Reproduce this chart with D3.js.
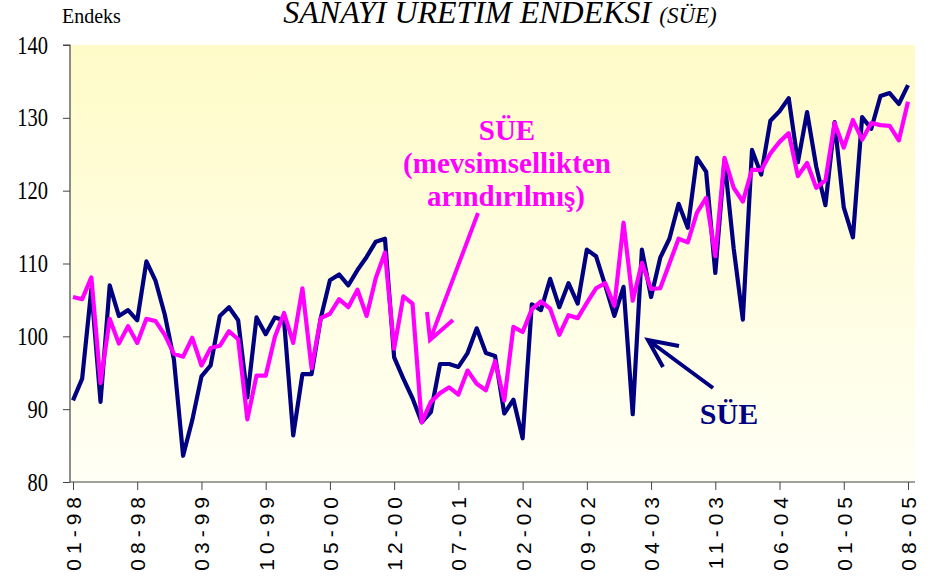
<!DOCTYPE html>
<html>
<head>
<meta charset="utf-8">
<script src="https://cdn.jsdelivr.net/npm/d3@7"></script>
<style>
  html, body { margin: 0; padding: 0; background: #ffffff; }
  svg { display: block; }
</style>
</head>
<body>
<svg id="chart" width="934" height="580"></svg>
<script>
// ---- Data (monthly, 01-98 .. 08-05) ----
const tickLabels = ["01-98","08-98","03-99","10-99","05-00","12-00","07-01","02-02","09-02","04-03","11-03","06-04","01-05","08-05"];
const tickStep = 7;
const sue = [
  91.2, 94.2, 106.5, 91.0, 107.0, 102.8, 103.6, 102.2, 110.3, 107.6, 103.0, 96.8,
  83.6, 88.5, 94.5, 96.0, 102.8, 104.0, 102.2, 91.6, 102.6, 100.3, 102.6, 102.2,
  86.4, 94.8, 94.8, 102.5, 107.7, 108.5, 107.0, 109.1, 110.9, 113.0, 113.4, 97.1,
  94.2, 91.5, 88.2, 89.6, 96.2, 96.2, 95.8, 97.7, 101.1, 97.7, 97.3, 89.4,
  91.3, 86.0, 104.4, 103.6, 107.9, 104.0, 107.3, 104.5, 111.9, 111.0, 107.0, 102.8,
  106.8, 89.3, 111.9, 105.4, 110.8, 113.4, 118.2, 114.9, 124.5, 122.6, 108.7, 124.2,
  112.1, 102.3, 125.6, 122.2, 129.6, 130.9, 132.7, 123.9, 130.8, 123.3, 118.0, 129.4,
  117.7, 113.6, 130.1, 128.5, 133.0, 133.4, 131.9, 134.5
];
const sueSA = [
  105.4, 105.1, 108.1, 93.6, 102.4, 99.0, 101.4, 99.1, 102.4, 102.1, 100.2, 97.6,
  97.2, 99.8, 96.0, 98.4, 98.7, 100.7, 99.6, 88.6, 94.6, 94.6, 99.9, 103.2,
  99.1, 106.6, 95.6, 102.5, 103.1, 105.1, 104.0, 106.4, 102.8, 108.0, 111.5, 98.3,
  105.5, 104.5, 88.2, 91.0, 92.2, 93.0, 92.0, 95.3, 93.5, 92.6, 96.6, 91.2,
  101.3, 100.6, 103.7, 104.8, 103.8, 100.2, 102.9, 102.5, 104.6, 106.6, 107.3, 104.2,
  115.6, 104.9, 110.1, 106.5, 106.6, 110.0, 113.4, 112.9, 117.0, 119.0, 111.0, 124.5,
  120.4, 118.5, 122.9, 122.8, 125.1, 126.7, 127.9, 122.0, 123.8, 120.4, 121.4, 129.3,
  125.9, 129.7, 127.0, 129.3, 129.0, 128.9, 126.9, 132.2
];
const yTicks = [80, 90, 100, 110, 120, 130, 140];

const SERIF = '"Liberation Serif", "Times New Roman", "DejaVu Serif", serif';
const SANS = '"Liberation Sans", Arial, "DejaVu Sans", sans-serif';

// ---- Layout ----
const svg = d3.select("#chart");
const plot = { left: 70, right: 915, top: 45, bottom: 482 };
const n = sue.length;
const x = d3.scaleLinear().domain([0, n - 1]).range([73, 908]);
const y = d3.scaleLinear().domain([80, 140]).range([plot.bottom, plot.top]);

// background gradient
const defs = svg.append("defs");
const grad = defs.append("linearGradient").attr("id", "bg").attr("x1", 0).attr("y1", 0).attr("x2", 0).attr("y2", 1);
grad.append("stop").attr("offset", "0%").attr("stop-color", "#fffbc8");
grad.append("stop").attr("offset", "100%").attr("stop-color", "#fffff5");

svg.append("rect")
  .attr("x", plot.left).attr("y", plot.top)
  .attr("width", plot.right - plot.left).attr("height", plot.bottom - plot.top)
  .attr("fill", "url(#bg)");

// axes
const yAxis = d3.axisLeft(y).tickValues(yTicks).tickSize(7).tickPadding(6).tickFormat(d3.format("d"));
const yG = svg.append("g").attr("transform", `translate(${plot.left},0)`).call(yAxis);
yG.select(".domain").attr("stroke", "#444").attr("stroke-width", 1.2).attr("d", `M-7,${plot.top}H0V${plot.bottom}`);
yG.selectAll(".tick line").attr("stroke", "#444");
yG.selectAll(".tick text")
  .style("font-family", SERIF)
  .style("font-size", "25px").attr("fill", "#000")
  .attr("x", 0)
  .attr("transform", "translate(-22,0) scale(0.82,1)");

const tickIdx = tickLabels.map((_, i) => i * tickStep);
const xAxis = d3.axisBottom(x).tickValues(tickIdx).tickSize(8).tickFormat((d, i) => tickLabels[i]);
const xG = svg.append("g").attr("transform", `translate(0,${plot.bottom})`).call(xAxis);
xG.select(".domain").attr("stroke", "#444").attr("stroke-width", 1.2).attr("d", `M${plot.left},0H${plot.right}`);
xG.selectAll(".tick line").attr("stroke", "#444");
xG.selectAll(".tick text")
  .style("font-family", SANS)
  .style("font-size", "21px").attr("fill", "#000")
  .attr("letter-spacing", "5px")
  .attr("text-anchor", "end")
  .attr("dominant-baseline", "central")
  .attr("transform", "translate(0,10) rotate(-90)")
  .attr("x", 0).attr("y", 0).attr("dy", null);

// lines
const line = d3.line().x((d, i) => x(i)).y(d => y(d)).curve(d3.curveLinear);
svg.append("path").datum(sue).attr("d", line)
  .attr("fill", "none").attr("stroke", "#000080").attr("stroke-width", 4.2).attr("stroke-linejoin", "round");
svg.append("path").datum(sueSA).attr("d", line)
  .attr("fill", "none").attr("stroke", "#ff00ff").attr("stroke-width", 4.2).attr("stroke-linejoin", "round");

// title
const title = svg.append("text").attr("x", 500).attr("y", 23).attr("text-anchor", "middle")
  .style("font-family", SERIF).style("font-style", "italic");
title.append("tspan").style("font-size", "32px").text("SANAYİ ÜRETİM ENDEKSİ ");
title.append("tspan").style("font-size", "23px").text("(SÜE)");

svg.append("text").attr("x", 62).attr("y", 23)
  .style("font-family", SERIF).style("font-size", "20px")
  .text("Endeks");

// annotations
const magText = svg.append("text").attr("text-anchor", "middle")
  .style("font-family", SERIF).style("font-weight", "bold").style("font-size", "29px").attr("fill", "#ff00ff");
magText.append("tspan").attr("x", 507).attr("y", 140).text("SÜE");
magText.append("tspan").attr("x", 507).attr("y", 173).text("(mevsimsellikten");
magText.append("tspan").attr("x", 506).attr("y", 206).text("arındırılmış)");

svg.append("path")
  .attr("d", "M478,213L430,340M427,312L430,340L453,320")
  .attr("fill", "none").attr("stroke", "#ff00ff").attr("stroke-width", 4);

svg.append("path")
  .attr("d", "M713,388L648,340M663,367L648,340L679,346")
  .attr("fill", "none").attr("stroke", "#000080").attr("stroke-width", 4);

svg.append("text").attr("x", 729).attr("y", 424).attr("text-anchor", "middle")
  .style("font-family", SERIF).style("font-weight", "bold").style("font-size", "30px").attr("fill", "#000080")
  .text("SÜE");
</script>
</body>
</html>
